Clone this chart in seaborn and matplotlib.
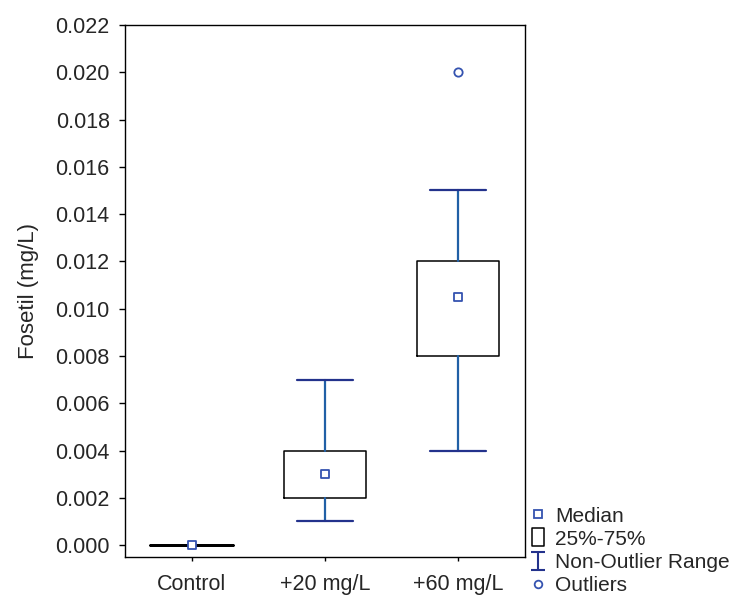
import numpy as np
import matplotlib.pyplot as plt
from matplotlib.lines import Line2D
from matplotlib.path import Path
from matplotlib.ticker import FormatStrFormatter
import seaborn as sns

# summary values
groups = ['Control', '+20 mg/L', '+60 mg/L']
whisker_low = [0.0, 0.001, 0.004]
q1 = [0.0, 0.002, 0.008]
medians = [0.0, 0.003, 0.0105]
q3 = [0.0, 0.004, 0.012]
whisker_high = [0.0, 0.007, 0.015]
outlier_group = ['+60 mg/L']
outlier_values = [0.020]
yticks = [0.000, 0.002, 0.004, 0.006, 0.008, 0.010, 0.012, 0.014, 0.016, 0.018, 0.020, 0.022]

sns.set_theme(style='ticks')
plt.rcParams['font.family'] = ['Liberation Sans', 'DejaVu Sans']

stem_color = '#2160a6'
cap_color = '#23328c'
marker_color = '#3553b0'

fig = plt.figure(figsize=(7.35, 5.95), dpi=100)
ax = fig.add_axes([0.170, 0.064, 0.544, 0.894])

stats = [dict(label=g, whislo=lo, q1=a, med=m, q3=b, whishi=hi, fliers=[])
         for g, lo, a, m, b, hi in zip(groups, whisker_low, q1, medians, q3, whisker_high)]
parts = ax.bxp(stats, positions=range(len(groups)), widths=0.62, capwidths=0.42,
               showfliers=False,
               boxprops=dict(color='black', linewidth=1.1),
               whiskerprops=dict(color=stem_color, linewidth=1.6),
               capprops=dict(color=cap_color, linewidth=1.6),
               medianprops=dict(visible=False))
# the control box is flat, keep its line black
for ln in parts['caps'][:2] + parts['whiskers'][:2]:
    ln.set_visible(False)
parts['boxes'][0].set_linewidth(1.8)

# medians drawn as small squares, outliers as small circles
sns.stripplot(x=groups, y=medians, order=groups, jitter=False, marker='s', size=6,
              color='white', edgecolor=marker_color, linewidth=1.3, ax=ax, zorder=5)
sns.stripplot(x=outlier_group, y=outlier_values, order=groups, jitter=False, marker='o',
              size=6, color='white', edgecolor=marker_color, linewidth=1.3, ax=ax, zorder=5)

ax.set_xlim(-0.5, 2.5)
ax.set_ylim(-0.0005, 0.022)
ax.set_xticks(range(len(groups)))
ax.set_xticklabels(groups)
ax.set_yticks(yticks)
ax.yaxis.set_major_formatter(FormatStrFormatter('%.3f'))
ax.tick_params(axis='y', labelsize=15.5, length=4, width=1, pad=7, color='black')
ax.tick_params(axis='x', labelsize=15.5, length=3, width=1, pad=9, color='black')
ax.set_xlabel('')
ax.set_ylabel('Fosetil (mg/L)', fontsize=16, labelpad=12)
for s in ax.spines.values():
    s.set_color('black')
    s.set_linewidth(1.0)

# legend symbols
rect = Path([(-0.32, -0.5), (0.32, -0.5), (0.32, 0.5), (-0.32, 0.5), (-0.32, -0.5)],
            [Path.MOVETO, Path.LINETO, Path.LINETO, Path.LINETO, Path.CLOSEPOLY])
ibar = Path([(-0.38, 0.5), (0.38, 0.5), (0, 0.5), (0, -0.5), (-0.38, -0.5), (0.38, -0.5)],
            [Path.MOVETO, Path.LINETO, Path.MOVETO, Path.LINETO, Path.MOVETO, Path.LINETO])
handles = [
    Line2D([], [], ls='none', marker='s', ms=5.5, mfc='white', mec=marker_color, mew=1.3),
    Line2D([], [], ls='none', marker=rect, ms=13.5, mfc='white', mec='black', mew=1.1),
    Line2D([], [], ls='none', marker=ibar, ms=13.5, mfc='none', mec=cap_color, mew=1.5),
    Line2D([], [], ls='none', marker='o', ms=5.5, mfc='white', mec=marker_color, mew=1.3),
]
labels = ['Median', '25%-75%', 'Non-Outlier Range', 'Outliers']
fig.legend(handles, labels, loc='lower left', bbox_to_anchor=(528 / 735, 0.0),
           frameon=False, fontsize=15, labelspacing=0.2, handlelength=1.0,
           handletextpad=0.3, borderpad=0.0, borderaxespad=0.0)

fig.savefig('out.png', dpi=100)
